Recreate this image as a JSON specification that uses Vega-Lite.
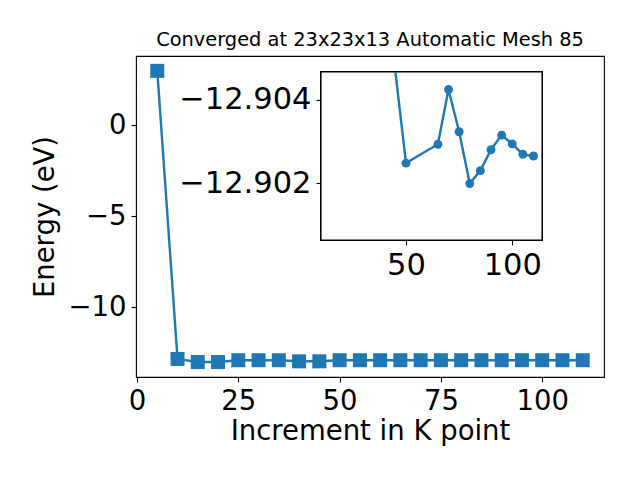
{
  "$schema": "https://vega.github.io/schema/vega-lite/v6.json",
  "width": 468,
  "height": 321,
  "autosize": "none",
  "padding": {"left": 136, "top": 56, "right": 36, "bottom": 103},
  "background": "white",
  "config": {
    "view": {"stroke": "black", "strokeWidth": 1.1},
    "font": "DejaVu Sans",
    "axis": {
      "labelFont": "DejaVu Sans",
      "titleFont": "DejaVu Sans",
      "labelColor": "black",
      "titleColor": "black",
      "tickColor": "black",
      "domainColor": "black",
      "tickSize": 5,
      "tickWidth": 1.1,
      "labelPadding": 5,
      "grid": false,
      "titleFontWeight": "normal"
    }
  },
  "title": {
    "text": "Converged at 23x23x13 Automatic Mesh 85",
    "font": "DejaVu Sans",
    "fontSize": 19.4,
    "fontWeight": "normal",
    "color": "black",
    "anchor": "middle",
    "frame": "group",
    "baseline": "alphabetic",
    "offset": -9.5
  },
  "datasets": {
    "main": [
      {"K": 5, "E": 2.97},
      {"K": 10, "E": -12.83},
      {"K": 15, "E": -13.0},
      {"K": 20, "E": -13.0},
      {"K": 25, "E": -12.9},
      {"K": 30, "E": -12.9},
      {"K": 35, "E": -12.9},
      {"K": 40, "E": -12.96},
      {"K": 45, "E": -12.96},
      {"K": 50, "E": -12.9},
      {"K": 55, "E": -12.9},
      {"K": 60, "E": -12.9},
      {"K": 65, "E": -12.9},
      {"K": 70, "E": -12.9},
      {"K": 75, "E": -12.9},
      {"K": 80, "E": -12.9},
      {"K": 85, "E": -12.9},
      {"K": 90, "E": -12.9},
      {"K": 95, "E": -12.9},
      {"K": 100, "E": -12.9},
      {"K": 105, "E": -12.9},
      {"K": 110, "E": -12.9}
    ],
    "inset": [
      {"K": 45, "E": -12.9065},
      {"K": 50, "E": -12.90248},
      {"K": 65, "E": -12.90293},
      {"K": 70, "E": -12.90424},
      {"K": 75, "E": -12.90323},
      {"K": 80, "E": -12.90199},
      {"K": 85, "E": -12.9023},
      {"K": 90, "E": -12.9028},
      {"K": 95, "E": -12.90315},
      {"K": 100, "E": -12.90294},
      {"K": 105, "E": -12.90269},
      {"K": 110, "E": -12.90265}
    ]
  },
  "layer": [
    {
      "data": {"name": "main"},
      "encoding": {
        "x": {
          "field": "K",
          "type": "quantitative",
          "scale": {"domain": [-0.25, 115.25], "nice": false, "zero": false},
          "axis": {
            "orient": "bottom",
            "values": [0, 25, 50, 75, 100],
            "domain": false,
            "labelFontSize": 27.5,
            "labelFlush": false,
            "title": "Increment in K point",
            "titleFontSize": 27.5,
            "titleBaseline": "alphabetic",
            "titleY": 62
          }
        },
        "y": {
          "field": "E",
          "type": "quantitative",
          "scale": {"domain": [-13.82, 3.785], "nice": false, "zero": false},
          "axis": {
            "orient": "left",
            "values": [0, -5, -10],
            "domain": false,
            "labelFontSize": 27.5,
            "labelFlush": false,
            "title": "Energy (eV)",
            "titleFontSize": 27.5,
            "titleBaseline": "alphabetic",
            "titleX": -83
          }
        }
      },
      "layer": [
        {"mark": {"type": "line", "color": "#1f77b4", "strokeWidth": 2.4}},
        {"mark": {"type": "point", "shape": "square", "filled": true, "size": 196, "color": "#1f77b4", "opacity": 1}}
      ]
    },
    {
      "data": {"name": "inset"},
      "encoding": {
        "x": {
          "field": "K",
          "type": "quantitative",
          "scale": {"domain": [10, 114], "range": [185, 406], "nice": false, "zero": false},
          "axis": {
            "orient": "bottom",
            "offset": -137,
            "values": [50, 100],
            "domain": false,
            "labelFontSize": 30.5,
            "labelFlush": false,
            "title": null
          }
        },
        "y": {
          "field": "E",
          "type": "quantitative",
          "scale": {"domain": [-12.90466, -12.90064], "range": [16, 184], "nice": false, "zero": false, "clamp": true},
          "axis": {
            "orient": "left",
            "offset": -185,
            "values": [-12.904, -12.902],
            "format": ".3f",
            "domain": false,
            "labelFontSize": 30.5,
            "labelFlush": false,
            "title": null
          }
        }
      },
      "layer": [
        {
          "mark": {"type": "rect", "fill": "white", "stroke": "black", "strokeWidth": 1.1},
          "encoding": {
            "x": {"datum": 10},
            "x2": {"datum": 114},
            "y": {"datum": -12.90466},
            "y2": {"datum": -12.90064}
          }
        },
        {"mark": {"type": "line", "color": "#1f77b4", "strokeWidth": 2.4}},
        {
          "transform": [{"filter": "datum.K >= 50"}],
          "mark": {"type": "point", "shape": "circle", "filled": true, "size": 80, "color": "#1f77b4", "opacity": 1}
        }
      ]
    }
  ],
  "resolve": {
    "scale": {"x": "independent", "y": "independent"},
    "axis": {"x": "independent", "y": "independent"}
  }
}
